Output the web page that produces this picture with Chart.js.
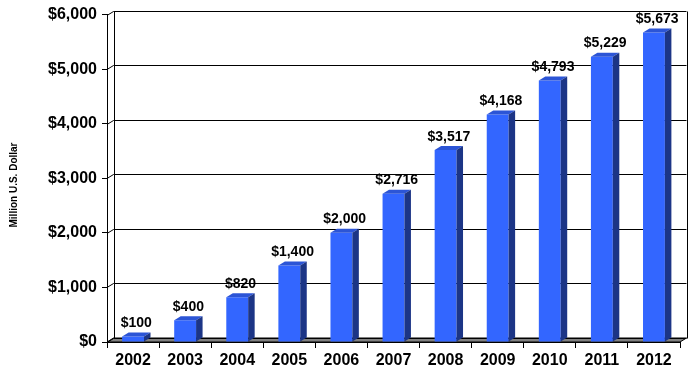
<!DOCTYPE html>
<html>
<head>
<meta charset="utf-8">
<script src="https://cdn.jsdelivr.net/npm/chart.js@4/dist/chart.umd.min.js"></script>
<style>
  html, body { margin: 0; padding: 0; background: #fff; }
  #wrap { width: 696px; height: 377px; }
</style>
</head>
<body>
<div id="wrap"><canvas id="salesChart" width="696" height="377"></canvas></div>
<script>
// chart data
var years = ["2002", "2003", "2004", "2005", "2006", "2007", "2008", "2009", "2010", "2011", "2012"];
var values = [100, 400, 820, 1400, 2000, 2716, 3517, 4168, 4793, 5229, 5673];
var yTicks = [0, 1000, 2000, 3000, 4000, 5000, 6000];
var yTitle = "Million U.S. Dollar";

// depth of the fake 3d look
var DX = 6.5, DY = 4;

function money(v) {
    return '$' + Number(v).toLocaleString('en-US');
}

// draws back wall, floor, bar sides/tops and value labels
var threeD = {
    id: 'threeD',
    beforeDatasetsDraw: function (chart) {
        var ctx = chart.ctx, a = chart.chartArea, y = chart.scales.y;
        ctx.save();
        // floor
        ctx.beginPath();
        ctx.moveTo(a.left, a.bottom);
        ctx.lineTo(a.right, a.bottom);
        ctx.lineTo(a.right + DX, a.bottom - DY);
        ctx.lineTo(a.left + DX, a.bottom - DY);
        ctx.closePath();
        ctx.fillStyle = '#808080';
        ctx.fill();
        ctx.strokeStyle = '#000';
        ctx.lineWidth = 1;
        ctx.stroke();
        // back wall grid lines + little diagonals at the ticks
        yTicks.forEach(function (v) {
            var py = Math.round(y.getPixelForValue(v)) + 0.5;
            ctx.beginPath();
            ctx.moveTo(a.left + DX, py - DY);
            ctx.lineTo(a.right + DX, py - DY);
            ctx.moveTo(a.left, py);
            ctx.lineTo(a.left + DX, py - DY);
            ctx.stroke();
        });
        var top = Math.round(y.getPixelForValue(6000)) + 0.5 - DY;
        var bot = Math.round(y.getPixelForValue(0)) + 0.5 - DY;
        ctx.beginPath();
        ctx.moveTo(Math.round(a.left + DX) + 0.5, top);
        ctx.lineTo(Math.round(a.left + DX) + 0.5, bot);
        ctx.moveTo(Math.round(a.right + DX) + 0.5, top);
        ctx.lineTo(Math.round(a.right + DX) + 0.5, bot);
        ctx.stroke();
        ctx.restore();
    },
    afterDatasetsDraw: function (chart) {
        var ctx = chart.ctx;
        var meta = chart.getDatasetMeta(0);
        ctx.save();
        meta.data.forEach(function (bar, i) {
            var x1 = bar.x - bar.width / 2, x2 = bar.x + bar.width / 2;
            var yt = bar.y, yb = bar.base;
            // top face
            ctx.beginPath();
            ctx.moveTo(x1, yt);
            ctx.lineTo(x2, yt);
            ctx.lineTo(x2 + DX, yt - DY);
            ctx.lineTo(x1 + DX, yt - DY);
            ctx.closePath();
            ctx.fillStyle = '#2c55d6';
            ctx.fill();
            // side face
            ctx.beginPath();
            ctx.moveTo(x2, yt);
            ctx.lineTo(x2 + DX, yt - DY);
            ctx.lineTo(x2 + DX, yb - DY);
            ctx.lineTo(x2, yb);
            ctx.closePath();
            ctx.fillStyle = '#1c3586';
            ctx.fill();
            // value label
            ctx.font = 'bold 14px "Liberation Sans", Arial, sans-serif';
            ctx.fillStyle = '#000';
            ctx.textAlign = 'center';
            ctx.textBaseline = 'alphabetic';
            ctx.fillText(money(values[i]), bar.x + DX / 2, yt - DY - 5.5);
        });
        // rotated axis title
        ctx.translate(14, 185);
        ctx.rotate(-Math.PI / 2);
        ctx.font = 'bold 10px "Liberation Sans", Arial, sans-serif';
        ctx.textAlign = 'center';
        ctx.textBaseline = 'middle';
        ctx.fillText(yTitle, 0, 0);
        ctx.restore();
    }
};

var ctx = document.getElementById('salesChart');
var salesChart = new Chart(ctx, {
    type: 'bar',
    data: {
        labels: years,
        datasets: [{
            label: yTitle,
            data: values,
            backgroundColor: '#3366ff',
            borderWidth: 0,
            barPercentage: 0.84,
            categoryPercentage: 0.5
        }]
    },
    options: {
        responsive: false,
        animation: false,
        layout: {
            padding: { left: 0, top: 12, right: 16, bottom: 0 }
        },
        plugins: {
            legend: { display: false },
            tooltip: { enabled: false }
        },
        scales: {
            x: {
                afterFit: function (scale) { scale.height = 35; },
                grid: {
                    offset: true,
                    drawOnChartArea: false,
                    tickLength: 6,
                    color: '#000'
                },
                border: { color: '#000' },
                ticks: {
                    color: '#000',
                    padding: 3,
                    maxRotation: 0,
                    font: { family: '"Liberation Sans", Arial, sans-serif', size: 16, weight: 'bold' }
                }
            },
            y: {
                min: 0,
                max: 6000,
                afterFit: function (scale) { scale.width = 107; },
                grid: {
                    drawOnChartArea: false,
                    tickLength: 5,
                    color: '#000'
                },
                border: { color: '#000' },
                ticks: {
                    stepSize: 1000,
                    color: '#000',
                    padding: 5,
                    callback: function (v) { return money(v); },
                    font: { family: '"Liberation Sans", Arial, sans-serif', size: 16, weight: 'bold' }
                }
            }
        }
    },
    plugins: [threeD]
});
</script>
</body>
</html>
